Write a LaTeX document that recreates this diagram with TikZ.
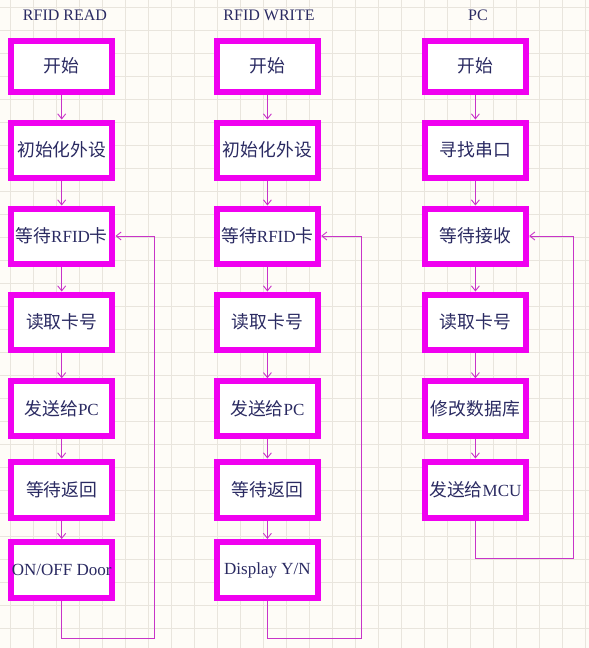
\documentclass[tikz,border=0pt]{standalone}
\usepackage{fontspec}
\setmainfont{Liberation Serif}
\newfontfamily\cjkf{Noto Sans CJK SC}
\newcommand\cjk{\cjkf\fontsize{17.8}{19}\selectfont}
\usetikzlibrary{arrows.meta}
\definecolor{bgc}{HTML}{FEFCF7}
\definecolor{gridc}{HTML}{E9E5DD}
\definecolor{boxc}{HTML}{F000F0}
\definecolor{linec}{HTML}{C834C8}
\definecolor{txtc}{HTML}{2A2A62}
\begin{document}
\begin{tikzpicture}[x=1pt,y=-1pt,
  gridline/.style={draw=gridc, line width=0.8pt},
  title/.style={text=txtc, font=\fontsize{16}{18}\selectfont, inner sep=0pt},
  box/.style={draw=boxc, line width=6pt, fill=white, minimum width=101.5pt, minimum height=55pt,
    inner sep=0pt, outer sep=3pt, text=txtc, font=\fontsize{17}{19}\selectfont},
  conn/.style={draw=linec, line width=0.9pt, -{Straight Barb[length=5pt,width=8pt]}},
  loopline/.style={draw=linec, line width=0.9pt}
]
\useasboundingbox (0,0) rectangle (589,648);
\fill[bgc] (0,0) rectangle (589,648);
\foreach \i in {0,...,25} \draw[gridline] ({10.7+23*\i},0) -- ({10.7+23*\i},648);
\foreach \j in {0,...,27} \draw[gridline] (0,{7+23*\j}) -- (589,{7+23*\j});

% titles
\node[title] (t1) at (65,15.5) {RFID READ};
\node[title] (t2) at (269,15.5) {RFID WRITE};
\node[title] (t3) at (478,15.5) {PC};

% column 1
\node[box, minimum height=51pt] (a1) at (61.7,66) {{\cjk 开始}};
\node[box] (a2) at (61.7,150) {{\cjk 初始化外设}};
\node[box] (a3) at (61.7,236) {{\cjk 等待}RFID{\cjk 卡}};
\node[box] (a4) at (61.7,322) {{\cjk 读取卡号}};
\node[box] (a5) at (61.7,408.8) {{\cjk 发送给}PC};
\node[box, minimum height=56pt] (a6) at (61.7,489.5) {{\cjk 等待返回}};
\node[box, minimum height=56pt] (a7) at (61.7,570) {ON/OFF Door};

% column 2
\node[box, minimum height=51pt] (b1) at (267.4,66) {{\cjk 开始}};
\node[box] (b2) at (267.4,150) {{\cjk 初始化外设}};
\node[box] (b3) at (267.4,236) {{\cjk 等待}RFID{\cjk 卡}};
\node[box] (b4) at (267.4,322) {{\cjk 读取卡号}};
\node[box] (b5) at (267.4,408.8) {{\cjk 发送给}PC};
\node[box, minimum height=56pt] (b6) at (267.4,489.5) {{\cjk 等待返回}};
\node[box, minimum height=56pt] (b7) at (267.4,570) {Display Y/N};

% column 3
\node[box, minimum height=51pt] (c1) at (475.4,66) {{\cjk 开始}};
\node[box] (c2) at (475.4,150) {{\cjk 寻找串口}};
\node[box] (c3) at (475.4,236) {{\cjk 等待接收}};
\node[box] (c4) at (475.4,322) {{\cjk 读取卡号}};
\node[box] (c5) at (475.4,408.8) {{\cjk 修改数据库}};
\node[box, minimum height=56pt] (c6) at (475.4,489.5) {{\cjk 发送给}MCU};

% vertical connectors
\foreach \p/\q in {a1/a2,a2/a3,a3/a4,a4/a5,a5/a6,a6/a7,
                   b1/b2,b2/b3,b3/b4,b4/b5,b5/b6,b6/b7,
                   c1/c2,c2/c3,c3/c4,c4/c5,c5/c6}
  \draw[conn] (\p.south) -- (\q.north);

% loops
\coordinate (la) at (154.3,638.3);
\coordinate (lb) at (361,638.3);
\coordinate (lc) at (573.3,558.3);
\draw[conn] (a7.south) |- (la) -- (la |- a3.east) -- (a3.east);
\draw[conn] (b7.south) |- (lb) -- (lb |- b3.east) -- (b3.east);
\draw[conn] (c6.south) |- (lc) -- (lc |- c3.east) -- (c3.east);
\end{tikzpicture}
\end{document}
